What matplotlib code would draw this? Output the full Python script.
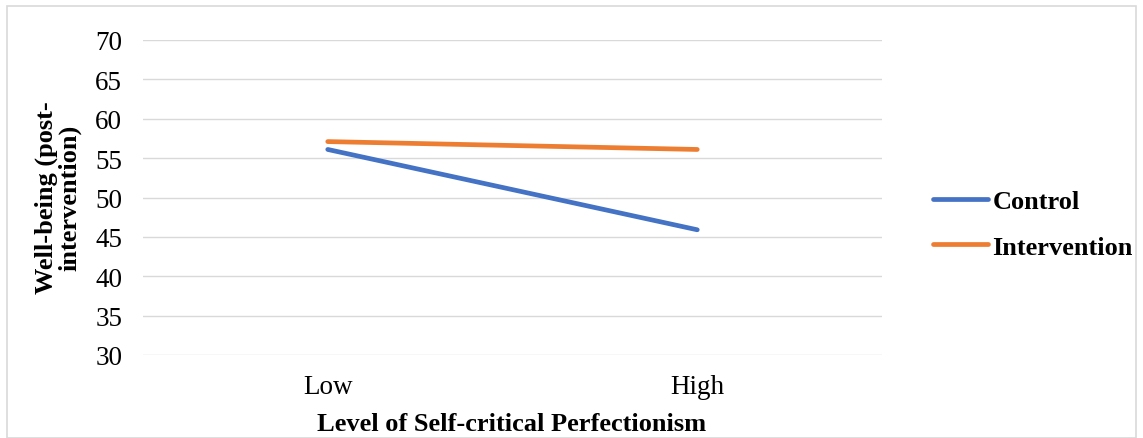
import matplotlib.pyplot as plt
from matplotlib.patches import Rectangle

plt.rcParams['font.family'] = ['Liberation Serif', 'DejaVu Serif']

levels = ["Low", "High"]
control = [56.1, 45.9]
intervention = [57.1, 56.1]
y_ticks = [30, 35, 40, 45, 50, 55, 60, 65, 70]

W, H = 1143, 439
fig = plt.figure(figsize=(W / 100, H / 100), dpi=100)
ax = fig.add_axes([143 / W, 1 - 356 / H, (882 - 143) / W, (356 - 41) / H])

x = range(len(levels))
ax.plot(x, control, color='#4472C4', linewidth=3.4, solid_capstyle='round', label="Control")
ax.plot(x, intervention, color='#ED7D31', linewidth=3.4, solid_capstyle='round', label="Intervention")

ax.set_xlim(-0.5, 1.5)
ax.set_ylim(30, 70)
ax.set_yticks(y_ticks)
ax.set_xticks(list(x))
ax.set_xticklabels(levels)
ax.tick_params(axis='both', length=0, labelsize=19.5, colors='#000000')
ax.tick_params(axis='y', pad=15)
ax.tick_params(axis='x', pad=14)
ax.grid(axis='y', color='#D9D9D9', linewidth=1)
ax.set_axisbelow(True)
for s in ax.spines.values():
    s.set_visible(False)

fig.text(58 / W, 1 - 198 / H, "Well-being (post-\nintervention)", rotation=90,
         ha='center', va='center', fontsize=19, fontweight='bold', linespacing=1.05)
fig.text(512 / W, 1 - 425 / H, "Level of Self-critical Perfectionism",
         ha='center', va='center', fontsize=19, fontweight='bold')

ax.legend(loc='center left', bbox_to_anchor=(933 / W, 1 - 225 / H), bbox_transform=fig.transFigure,
          frameon=False, borderpad=0, borderaxespad=0, handlelength=2.1, handletextpad=0.15,
          labelspacing=0.85, prop={'size': 19, 'weight': 'bold'})

fig.patches.append(Rectangle((7 / W, 0), (1136 - 7) / W, 1 - 7 / H, transform=fig.transFigure,
                             fill=False, edgecolor='#D9D9D9', linewidth=1.2))

fig.savefig("out.png", dpi=100)
